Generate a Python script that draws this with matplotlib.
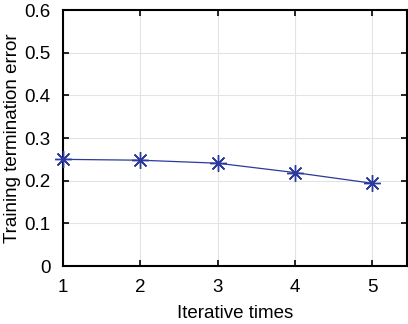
import matplotlib
matplotlib.use('Agg')
import matplotlib.pyplot as plt

iterations = [1, 2, 3, 4, 5]
error = [0.250, 0.248, 0.241, 0.219, 0.194]
x_ticks = [1, 2, 3, 4, 5]
y_ticks = [0, 0.1, 0.2, 0.3, 0.4, 0.5, 0.6]

plt.rcParams['font.family'] = ['Liberation Sans', 'DejaVu Sans']

fig = plt.figure(figsize=(4.08, 3.24), dpi=100)
ax = fig.add_axes([0.1544, 0.179, 0.843, 0.79])

ax.plot(iterations, error, color='#2b3a9c', linewidth=0.9,
        marker=(8, 2, 0), markersize=12, markeredgewidth=1.0,
        clip_on=False, zorder=3)

ax.set_xlim(1, 5.45)
ax.set_ylim(0, 0.6)
ax.set_xticks(x_ticks)
ax.set_yticks(y_ticks)
ax.set_yticklabels(['0', '0.1', '0.2', '0.3', '0.4', '0.5', '0.6'])
ax.grid(True, color='#e3e3e3', linewidth=0.8)
ax.set_axisbelow(True)

ax.tick_params(direction='in', length=4, width=1.2, labelsize=13.5,
               top=True, right=True, pad=9)
for s in ax.spines.values():
    s.set_linewidth(1.5)

ax.set_xlabel('Iterative times', fontsize=13.5, labelpad=7)
ax.set_ylabel('Training termination error', fontsize=13.5, labelpad=2)

fig.savefig('out.png', dpi=100)
